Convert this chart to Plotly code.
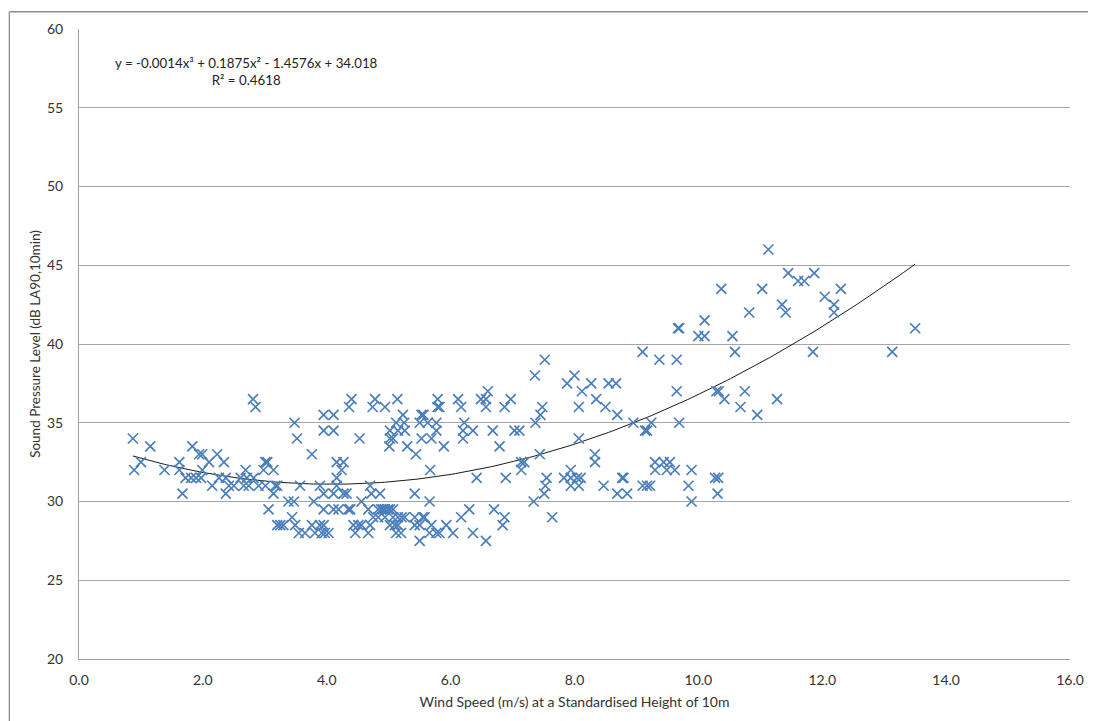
import numpy as np
import plotly.graph_objects as go

# Wind speed (m/s) and LA90 (dB) readings
wind = [
    0.87, 0.89, 1.0, 1.15, 1.38, 1.62, 1.62, 1.67, 1.72, 1.81, 1.83, 1.89, 1.94, 1.97, 1.99, 1.99,
    2.10, 2.15, 2.23, 2.26, 2.34, 2.37, 2.37, 2.42, 2.50, 2.61, 2.66, 2.69, 2.71, 2.74, 2.81, 2.85, 2.82, 2.90, 2.98,
    3.01, 3.04, 3.01, 3.14, 3.17, 3.20, 3.14, 3.06, 3.20, 3.25, 3.30, 3.38, 3.47, 3.44, 3.49, 3.48, 3.52, 3.55, 3.57,
    3.65, 3.76, 3.76, 3.79, 3.81, 3.89, 3.89, 3.92, 3.95, 3.97, 3.95, 3.95, 3.95, 3.95,
    4.03, 4.11, 4.11, 4.11, 4.11, 4.16, 4.16, 4.16, 4.19, 4.24, 4.27, 4.27, 4.32, 4.35, 4.36, 4.40, 4.38, 4.43, 4.46,
    4.51, 4.53, 4.56, 4.56, 4.67, 4.67, 4.70, 4.70, 4.72, 4.74, 4.78, 4.75, 4.83, 4.83, 4.86, 4.88, 4.91, 4.94, 4.94,
    4.94, 4.99,
    5.02, 5.02, 5.01, 5.02, 5.02, 5.07, 5.07, 5.07, 5.10, 5.12, 5.12, 5.14, 5.15, 5.15, 5.15, 5.20, 5.21, 5.23, 5.25,
    5.26, 5.26, 5.30, 5.42, 5.42, 5.42, 5.44, 5.50, 5.53, 5.50, 5.50, 5.53, 5.56, 5.55, 5.58, 5.63, 5.66, 5.66, 5.67,
    5.69, 5.69, 5.77, 5.77, 5.77, 5.79, 5.79, 5.82, 5.82, 5.89, 5.93,
    6.04, 6.12, 6.17, 6.17, 6.20, 6.20, 6.22, 6.30, 6.36, 6.36, 6.42, 6.49, 6.57, 6.60, 6.57, 6.57, 6.68, 6.70, 6.79,
    6.84, 6.87, 6.87, 6.89, 6.97,
    7.03, 7.11, 7.14, 7.19, 7.14, 7.34, 7.36, 7.37, 7.44, 7.45, 7.48, 7.52, 7.51, 7.53, 7.55, 7.64, 7.83, 7.88, 7.94,
    7.94, 7.94, 8.00,
    8.04, 8.07, 8.07, 8.07, 8.10, 8.12, 8.27, 8.33, 8.33, 8.35, 8.47, 8.50, 8.55, 8.67, 8.69, 8.69, 8.77, 8.79, 8.85,
    8.95,
    9.10, 9.10, 9.14, 9.17, 9.17, 9.22, 9.24, 9.30, 9.30, 9.37, 9.44, 9.49, 9.54, 9.62, 9.65, 9.65, 9.69, 9.67, 9.69,
    9.84, 9.89, 9.89,
    10.00, 10.10, 10.10, 10.27, 10.32, 10.31, 10.29, 10.33, 10.37, 10.42, 10.55, 10.59, 10.68, 10.75, 10.82, 10.95,
    11.03, 11.13, 11.27, 11.35, 11.41, 11.45, 11.61, 11.71, 11.85, 11.87, 12.04, 12.19, 12.19, 12.30, 13.13, 13.50,
]
spl = [
    34.0, 32.0, 32.5, 33.5, 32.0, 32.5, 32.0, 30.5, 31.5, 31.5, 33.5, 31.5, 33.0, 31.5, 33.0, 32.0,
    32.5, 31.0, 33.0, 31.5, 32.5, 31.5, 30.5, 31.0, 31.0, 31.5, 31.0, 32.0, 31.5, 31.0, 36.5, 36.0, 31.5, 31.0, 32.0,
    32.5, 32.5, 31.0, 32.0, 31.0, 31.0, 30.5, 29.5, 28.5, 28.5, 28.5, 30.0, 30.0, 29.0, 28.5, 35.0, 34.0, 28.0, 31.0,
    28.0, 33.0, 28.5, 30.0, 28.0, 28.5, 31.0, 28.0, 29.5, 28.0, 35.5, 34.5, 30.5, 28.5,
    28.0, 35.5, 34.5, 30.5, 29.5, 32.5, 31.5, 31.0, 29.5, 32.0, 32.5, 30.5, 30.5, 29.5, 36.0, 36.5, 29.5, 28.5, 28.0,
    28.5, 34.0, 30.0, 28.5, 29.5, 28.0, 28.5, 31.0, 30.5, 36.0, 36.5, 29.0, 29.0, 29.5, 30.5, 29.5, 29.5, 36.0, 29.5,
    29.0, 29.5,
    34.5, 34.0, 33.5, 29.5, 28.5, 34.0, 29.5, 29.0, 28.5, 35.0, 28.0, 36.5, 34.5, 29.0, 28.5, 28.0, 29.0, 35.5, 35.0,
    34.5, 29.0, 33.5, 30.5, 29.0, 28.5, 33.0, 35.0, 34.0, 28.5, 27.5, 35.5, 35.5, 29.0, 29.0, 35.0, 30.0, 28.0, 32.0,
    34.0, 28.5, 35.0, 34.5, 28.0, 36.5, 36.0, 36.0, 28.0, 33.5, 28.5,
    28.0, 36.5, 36.0, 29.0, 34.5, 34.0, 35.0, 29.5, 34.5, 28.0, 31.5, 36.5, 36.5, 37.0, 36.0, 27.5, 34.5, 29.5, 33.5,
    28.5, 29.0, 36.0, 31.5, 36.5,
    34.5, 34.5, 32.5, 32.5, 32.0, 30.0, 38.0, 35.0, 33.0, 35.5, 36.0, 39.0, 30.5, 31.0, 31.5, 29.0, 31.5, 37.5, 32.0,
    31.5, 31.0, 38.0,
    31.5, 36.0, 34.0, 31.0, 31.5, 37.0, 37.5, 33.0, 32.5, 36.5, 31.0, 36.0, 37.5, 37.5, 35.5, 30.5, 31.5, 31.5, 30.5,
    35.0,
    39.5, 31.0, 34.5, 34.5, 31.0, 31.0, 35.0, 32.5, 32.0, 39.0, 32.5, 32.0, 32.5, 32.0, 39.0, 37.0, 35.0, 41.0, 41.0,
    31.0, 32.0, 30.0,
    40.5, 40.5, 41.5, 31.5, 31.5, 30.5, 37.0, 37.0, 43.5, 36.5, 40.5, 39.5, 36.0, 37.0, 42.0, 35.5,
    43.5, 46.0, 36.5, 42.5, 42.0, 44.5, 44.0, 44.0, 39.5, 44.5, 43.0, 42.5, 42.0, 43.5, 39.5, 41.0,
]

# Polynomial trendline coefficients as printed on the chart (x^3, x^2, x, c)
coef = [-0.0014, 0.1875, -1.4576, 34.018]
x_ticks = [0, 2, 4, 6, 8, 10, 12, 14, 16]
y_ticks = [20, 25, 30, 35, 40, 45, 50, 55, 60]

FONT = "Lato, 'Open Sans', sans-serif"

fig = go.Figure()

tx = np.linspace(min(wind), max(wind), 200)
ty = np.polyval(coef, tx)
fig.add_trace(go.Scatter(
    x=tx, y=ty, mode="lines",
    line=dict(color="#000000", width=0.9),
    hoverinfo="skip", showlegend=False,
))

fig.add_trace(go.Scatter(
    x=wind, y=spl, mode="markers",
    marker=dict(symbol="x-thin", size=10,
                line=dict(color="#4A7EBB", width=1.7)),
    showlegend=False,
))

# chart-area frame (only its top and left edges are inside the picture)
fx0 = (9 - 79) / 996
fy1 = (659.3 - 10) / 632
frame = dict(color="#8C8C8C", width=1.3)

fig.update_layout(
    width=1088, height=713,
    margin=dict(l=71, r=21, t=19, b=62),
    paper_bgcolor="white", plot_bgcolor="white",
    font=dict(family=FONT, size=13, color="#333333"),
    xaxis=dict(
        range=[0, 16], tickvals=x_ticks,
        ticktext=[f"{v:.1f}" for v in x_ticks],
        showgrid=False, zeroline=False,
        showline=True, linecolor="#A0A0A0", linewidth=1,
        ticks="", ticklabelstandoff=8,
        tickfont=dict(family=FONT, size=14, color="#333333"),
        title=dict(text="Wind Speed (m/s) at a Standardised Height of 10m",
                   font=dict(family=FONT, size=14, color="#333333"), standoff=10),
    ),
    yaxis=dict(
        range=[20, 60], tickvals=y_ticks,
        showgrid=True, gridcolor="#A6A6A6", gridwidth=1,
        zeroline=False,
        showline=True, linecolor="#A0A0A0", linewidth=1,
        ticks="", ticklabelstandoff=12,
        tickfont=dict(family=FONT, size=14, color="#333333"),
        title=dict(text="Sound Pressure Level (dB LA90,10min)",
                   font=dict(family=FONT, size=13.5, color="#333333"), standoff=3),
    ),
    annotations=[
        dict(xref="x", yref="y", x=2.71, y=57.3,
             text="y = -0.0014x³ + 0.1875x² - 1.4576x + 34.018<br>R² = 0.4618",
             showarrow=False, align="center",
             font=dict(family=FONT, size=13.3, color="#222222")),
    ],
    shapes=[
        dict(type="line", xref="paper", yref="paper",
             x0=fx0, x1=1.2, y0=fy1, y1=fy1, line=frame, layer="below"),
        dict(type="line", xref="paper", yref="paper",
             x0=fx0, x1=fx0, y0=-0.2, y1=fy1, line=frame, layer="below"),
    ],
)

fig.write_html("out.html")
